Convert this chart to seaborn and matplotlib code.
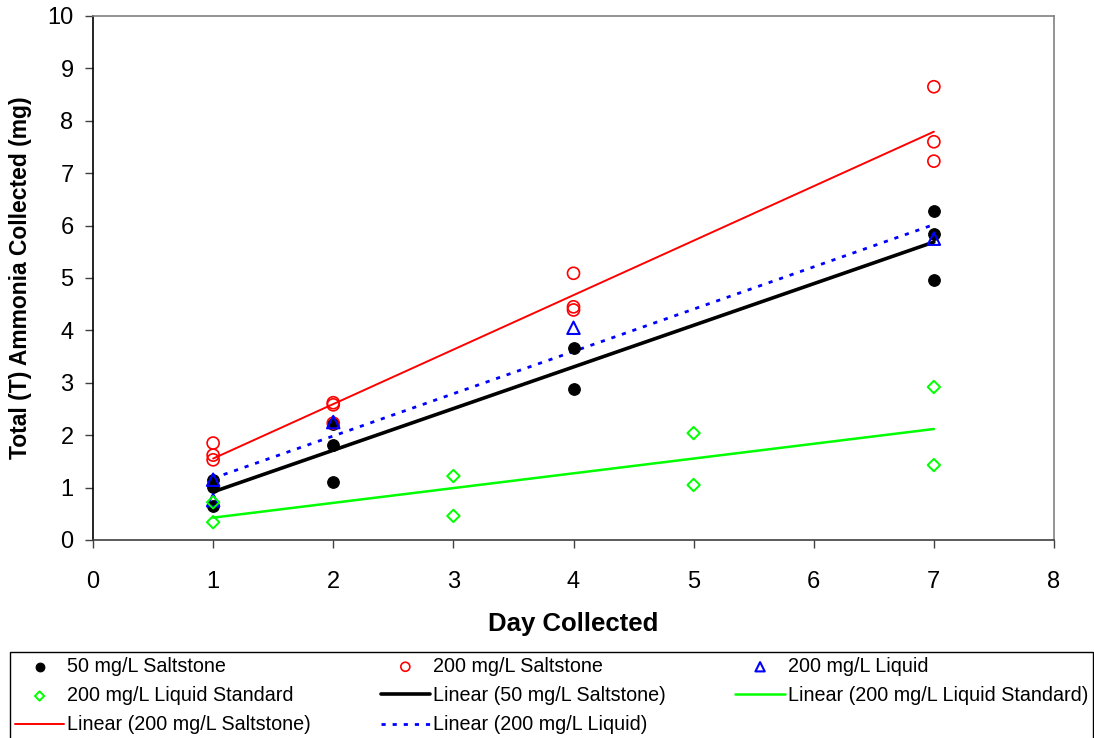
import numpy as np
import seaborn as sns
import matplotlib.pyplot as plt

# valores
dias_50_salt = [1, 1, 1, 2, 2, 2, 4, 4, 7, 7, 7]
amonia_50_salt = [1.14, 1.01, 0.65, 2.21, 1.81, 1.10, 3.66, 2.89, 6.28, 5.84, 4.97]

dias_200_salt = [1, 1, 1, 2, 2, 2, 4, 4, 4, 7, 7, 7]
amonia_200_salt = [1.85, 1.62, 1.53, 2.62, 2.58, 2.23, 5.09, 4.45, 4.39, 8.65, 7.60, 7.23]

dias_200_liq = [1, 1, 2, 4, 7]
amonia_200_liq = [1.15, 0.76, 2.25, 4.05, 5.75]

dias_200_std = [1, 1, 3, 3, 5, 5, 7, 7]
amonia_200_std = [0.72, 0.34, 1.22, 0.46, 2.04, 1.05, 2.92, 1.43]

nomes_pontos = ["50 mg/L Saltstone", "200 mg/L Saltstone", "200 mg/L Liquid",
                "200 mg/L Liquid Standard"]
nomes_linhas = ["Linear (50 mg/L Saltstone)", "Linear (200 mg/L Liquid Standard)",
                "Linear (200 mg/L Saltstone)", "Linear (200 mg/L Liquid)"]

x_ticks = [0, 1, 2, 3, 4, 5, 6, 7, 8]
y_ticks = [0, 1, 2, 3, 4, 5, 6, 7, 8, 9, 10]

sns.set_style("white")
plt.rcParams['font.family'] = ['Liberation Sans', 'DejaVu Sans']
plt.rcParams['text.color'] = 'black'
plt.rcParams['axes.labelcolor'] = 'black'
plt.rcParams['xtick.color'] = 'black'
plt.rcParams['ytick.color'] = 'black'

fig = plt.figure(figsize=(10.94, 7.38), dpi=100)
ax = fig.add_axes([93 / 1094, 198 / 738, 961 / 1094, 524 / 738])

sns.scatterplot(x=dias_50_salt, y=amonia_50_salt, ax=ax, marker="o", s=70,
                color="black", edgecolor="black", linewidth=0.8, zorder=3)
sns.scatterplot(x=dias_200_salt, y=amonia_200_salt, ax=ax, marker="o", s=75,
                facecolor="none", edgecolor="#FF0000", linewidth=1.2, zorder=3)
sns.scatterplot(x=dias_200_liq, y=amonia_200_liq, ax=ax, marker="^", s=80,
                facecolor="none", edgecolor="#0000FF", linewidth=1.5, zorder=4)
sns.scatterplot(x=dias_200_std, y=amonia_200_std, ax=ax, marker="D", s=40,
                facecolor="none", edgecolor="#00FF00", linewidth=1.4, zorder=4)
pontos = list(ax.collections[:4])

sns.regplot(x=dias_50_salt, y=amonia_50_salt, ax=ax, scatter=False, ci=None,
            truncate=True, line_kws={"color": "black", "lw": 2.6})
sns.regplot(x=dias_200_std, y=amonia_200_std, ax=ax, scatter=False, ci=None,
            truncate=True, line_kws={"color": "#00FF00", "lw": 1.8})
sns.regplot(x=dias_200_salt, y=amonia_200_salt, ax=ax, scatter=False, ci=None,
            truncate=True, line_kws={"color": "#FF0000", "lw": 1.4})
sns.regplot(x=dias_200_liq, y=amonia_200_liq, ax=ax, scatter=False, ci=None,
            truncate=True, line_kws={"color": "#0000FF", "lw": 2.0,
                                     "linestyle": (0, (1.5, 2.5))})
linhas = list(ax.lines[-4:])

if ax.get_legend() is not None:
    ax.get_legend().remove()

ax.set_xlim(0, 8)
ax.set_ylim(0, 10)
ax.set_xticks(x_ticks)
ax.set_yticks(y_ticks)
ax.tick_params(axis="both", labelsize=17, direction="out", length=6, width=1,
               color="#404040", labelcolor="black", left=True, bottom=True, pad=8)
ax.tick_params(axis="x", pad=16)

for lado in ["top", "right"]:
    ax.spines[lado].set_color("#808080")
    ax.spines[lado].set_linewidth(1.2)
ax.spines["left"].set_color("black")
ax.spines["bottom"].set_color("#404040")
ax.spines["left"].set_linewidth(1.2)
ax.spines["bottom"].set_linewidth(1.2)

ax.set_xlabel("Day Collected", fontsize=18.5, fontweight="bold", labelpad=14)
ax.set_ylabel("Total (T) Ammonia Collected (mg)", fontsize=16.5, fontweight="bold", labelpad=11)

handles = pontos + linhas
labels = nomes_pontos + nomes_linhas
ordem = [0, 3, 6, 1, 4, 7, 2, 5]
leg = fig.legend([handles[i] for i in ordem], [labels[i] for i in ordem],
                 loc="upper left", bbox_to_anchor=(10 / 1094, -0.05, 1083 / 1094, 86 / 738 + 0.05),
                 mode="expand", ncol=3, fontsize=14.2, frameon=True, fancybox=False,
                 edgecolor="black", framealpha=1, borderaxespad=0, borderpad=0.25,
                 labelspacing=0.52, handlelength=2.5, handletextpad=0.15,
                 markerscale=0.75)
leg.get_frame().set_linewidth(1.0)

fig.savefig("out.png", dpi=100)
